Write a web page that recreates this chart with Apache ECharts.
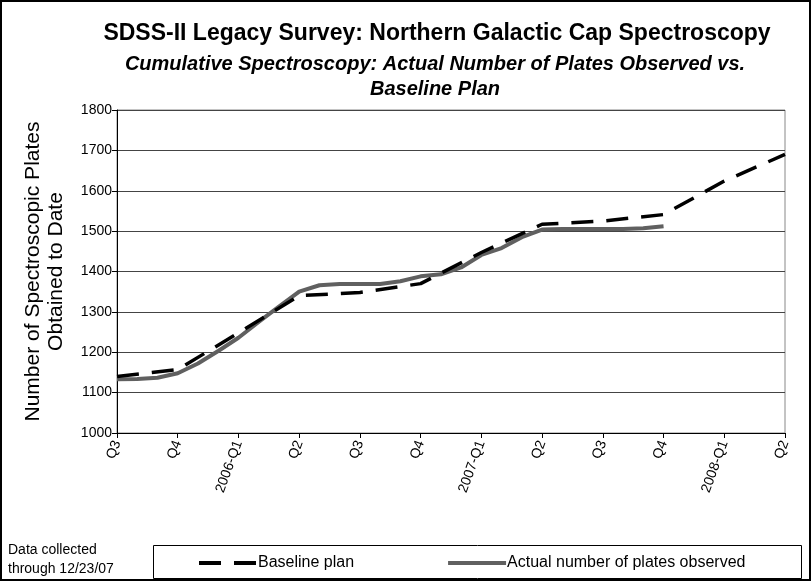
<!DOCTYPE html>
<html>
<head>
<meta charset="utf-8">
<script src="https://cdn.jsdelivr.net/npm/echarts@6/dist/echarts.min.js"></script>
<style>
  html, body { margin: 0; padding: 0; background: #fff; }
  #chart { width: 812px; height: 582px; }
</style>
</head>
<body>
<div id="chart"></div>
<script>
// quarter tick labels, Q3 2005 .. Q2 2008
var quarterLabels = ['Q3', 'Q4', '2006-Q1', 'Q2', 'Q3', 'Q4', '2007-Q1', 'Q2', 'Q3', 'Q4', '2008-Q1', 'Q2'];

// baseline plan, one value per quarter tick
var baselineQuarter = [0, 1, 2, 3, 4, 5, 6, 7, 8, 9, 10, 11];
var baselinePlates = [1140, 1157, 1248, 1340, 1348, 1370, 1447, 1517, 1525, 1541, 1624, 1690];

// actual plates, read roughly once a month (months after the first tick)
var actualMonth = [0, 1, 2, 3, 4, 5, 6, 7, 8, 9, 10, 11, 12, 13, 14, 15, 16, 17, 18, 19, 20, 21, 22, 23, 24, 25, 26, 27];
var actualPlates = [1133, 1134, 1137, 1148, 1172, 1203, 1236, 1275, 1313, 1350, 1366, 1369, 1369, 1369,
                    1376, 1388, 1393, 1410, 1441, 1458, 1485, 1504, 1505, 1505, 1505, 1505, 1507, 1512];

var FONT = "'Liberation Sans', Arial, sans-serif";

var baseData = baselineQuarter.map(function (q, i) { return [q, baselinePlates[i]]; });
var actualData = actualMonth.map(function (m, i) { return [m / 3, actualPlates[i]]; });

var chart = echarts.init(document.getElementById('chart'));
chart.setOption({
  animation: false,
  backgroundColor: '#fff',
  textStyle: { fontFamily: FONT, color: '#000' },
  title: [{
    text: 'SDSS-II Legacy Survey: Northern Galactic Cap Spectroscopy',
    left: 437, top: 22, textAlign: 'center', padding: 0,
    textStyle: { fontFamily: FONT, fontSize: 23, fontWeight: 'bold', color: '#000' }
  }, {
    text: 'Cumulative Spectroscopy: Actual Number of Plates Observed vs.\nBaseline Plan',
    left: 435, top: 52, textAlign: 'center', padding: 0,
    textStyle: { fontFamily: FONT, fontSize: 20, fontWeight: 'bold', fontStyle: 'italic', color: '#000', lineHeight: 25 }
  }],
  legend: {
    left: 192, top: 550,
    itemWidth: 58, itemHeight: 14, itemGap: 92,
    itemStyle: { opacity: 0 },
    lineStyle: { width: 4 },
    textStyle: { fontFamily: FONT, fontSize: 16, color: '#000', padding: [0, 0, 0, -4] },
    data: ['Baseline plan', 'Actual number of plates observed']
  },
  grid: {
    left: 117, right: 27, top: 110, bottom: 149,
    show: true, borderColor: '#888', borderWidth: 1
  },
  xAxis: {
    type: 'value', min: 0, max: 11, interval: 1,
    axisLine: { lineStyle: { color: '#000', width: 1 } },
    axisTick: { length: 5, lineStyle: { color: '#000' } },
    splitLine: { show: false },
    axisLabel: {
      rotate: 70, fontSize: 14, color: '#000', margin: 8, fontFamily: FONT,
      formatter: function (v) { return quarterLabels[Math.round(v)]; }
    }
  },
  yAxis: {
    type: 'value', min: 1000, max: 1800, interval: 100,
    name: 'Number of Spectroscopic Plates\nObtained to Date',
    nameLocation: 'middle', nameGap: 49,
    nameTextStyle: { fontFamily: FONT, fontSize: 21, color: '#000', lineHeight: 23 },
    axisLine: { show: true, lineStyle: { color: '#000', width: 1 } },
    axisTick: { show: true, length: 5, lineStyle: { color: '#000' } },
    splitLine: { lineStyle: { color: '#444', width: 1 } },
    axisLabel: {
      fontSize: 14, color: '#000', margin: 5, fontFamily: FONT,
      formatter: function (v) { return String(v); }
    }
  },
  series: [{
    name: 'Baseline plan',
    type: 'line',
    data: baseData,
    symbol: 'none',
    lineStyle: { color: '#000', width: 3.5, type: [22, 13] },
    itemStyle: { color: '#000' },
    z: 3
  }, {
    name: 'Actual number of plates observed',
    type: 'line',
    data: actualData,
    symbol: 'none',
    lineStyle: { color: '#606060', width: 4 },
    itemStyle: { color: '#606060' },
    z: 2
  }],
  graphic: [{
    type: 'rect', silent: true, z: -1,
    shape: { x: 1, y: 1, width: 809, height: 579 },
    style: { fill: 'none', stroke: '#000', lineWidth: 2 }
  }, {
    type: 'rect', silent: true,
    shape: { x: 153.5, y: 545.5, width: 648, height: 33 },
    style: { fill: 'none', stroke: '#000', lineWidth: 1 }
  }, {
    type: 'text', left: 8, top: 541, silent: true,
    style: { text: 'Data collected\nthrough 12/23/07', fontFamily: FONT, fontSize: 14, lineHeight: 19, fill: '#000' }
  }]
});
</script>
</body>
</html>
